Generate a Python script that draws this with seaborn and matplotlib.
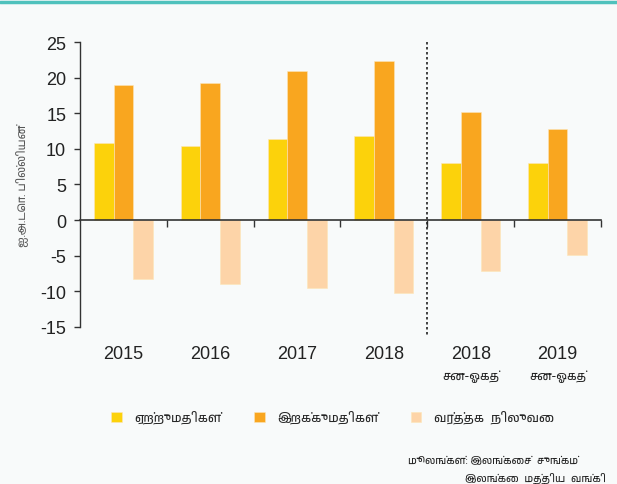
import matplotlib
matplotlib.use("Agg")
import matplotlib.pyplot as plt
import matplotlib.transforms as mtransforms
from matplotlib import font_manager as fm
import pandas as pd
import seaborn as sns

# data (US$ billions)
periods = ["2015", "2016", "2017", "2018", "2018 ", "2019"]
sub_labels = ["", "", "", "", "சன-ஓகத்", "சன-ஓகத்"]
exports = [10.8, 10.4, 11.4, 11.8, 8.0, 8.0]
imports = [19.0, 19.3, 21.0, 22.4, 15.2, 12.8]
balance = [-8.3, -9.0, -9.6, -10.3, -7.2, -4.9]
series_names = ["ஏற்றுமதிகள்", "இறக்குமதிகள்", "வர்த்தக  நிலுவை"]
colors = ["#fcd20b", "#f9a61f", "#fdd4a8"]

df = pd.DataFrame({"period": periods, series_names[0]: exports,
                   series_names[1]: imports, series_names[2]: balance})
long_df = df.melt(id_vars="period", var_name="series", value_name="value")

sns.set_theme(style="white")
tamil = sorted({f.name for f in fm.fontManager.ttflist if "Tamil" in f.name})
plt.rcParams["font.family"] = tamil + ["Liberation Sans", "DejaVu Sans"]

bg = "#f8fafa"
fig = plt.figure(figsize=(6.17, 4.85), dpi=100, facecolor=bg)
ax = fig.add_axes([0.1297, 0.324, 0.8443, 0.5873], facecolor=bg)

sns.barplot(data=long_df, x="period", y="value", hue="series",
            palette=colors, width=0.68, saturation=1, ax=ax,
            edgecolor="#fde6b8", linewidth=0.4)

ax.set_xlim(-0.5, 5.5)
ax.set_ylim(-15, 25)
ax.set_yticks(range(-15, 30, 5))
ax.set_yticklabels([str(v) for v in range(-15, 30, 5)],
                   family=["Liberation Sans"], fontsize=13, color="#222222")
ax.tick_params(axis="y", direction="out", length=4, width=1, color="#333333",
               left=True, pad=6)

for s in ["top", "right"]:
    ax.spines[s].set_visible(False)
ax.spines["left"].set_color("#333333")
ax.spines["left"].set_linewidth(1)
ax.spines["bottom"].set_position(("data", 0))
ax.spines["bottom"].set_color("#333333")
ax.spines["bottom"].set_linewidth(1.2)

ax.set_xticks(range(len(periods)))
ax.set_xticklabels([])
ax.tick_params(axis="x", which="major", length=0)
ax.set_xticks([i + 0.5 for i in range(len(periods))], minor=True)
ax.tick_params(axis="x", which="minor", direction="out", length=5, width=1,
               color="#333333", bottom=True)
ax.set_xlabel("")
ax.set_ylabel("ஐ.அ.டொ. பில்லியன்", fontsize=8, color="#555555", labelpad=8)

trans = mtransforms.blended_transform_factory(ax.transData, ax.transAxes)
for i, (p, sub) in enumerate(zip(periods, sub_labels)):
    ax.text(i, -0.095, p.strip(), transform=trans, ha="center", va="center",
            fontsize=13, color="#222222", family=["Liberation Sans"])
    if sub:
        ax.text(i, -0.172, sub, transform=trans, ha="center", va="center",
                fontsize=8.5, color="#222222")

# divider between calendar years and Jan-Aug
ax.plot([3.5, 3.5], [25, -16.2], linestyle=(0, (1.5, 1.5)), color="#222222",
        linewidth=1.2, clip_on=False)

ax.legend(loc="center", bbox_to_anchor=(0.485, -0.317), ncol=3, frameon=False,
          fontsize=9, handlelength=0.85, handleheight=0.85, columnspacing=2.6,
          handletextpad=1.0)

fig.text(0.662, 0.049, "மூலங்கள்: இலங்கைச்  சுங்கம்", fontsize=7.5,
         style="italic", color="#222222", va="center")
fig.text(0.754, 0.014, "இலங்கை  மத்திய  வங்கி", fontsize=7.5,
         color="#222222", va="center")

fig.add_artist(plt.Line2D([0, 1], [0.994, 0.994], color="#4fc1bc",
                          linewidth=2.5, transform=fig.transFigure))

fig.savefig("out.png", dpi=100, facecolor=bg)
